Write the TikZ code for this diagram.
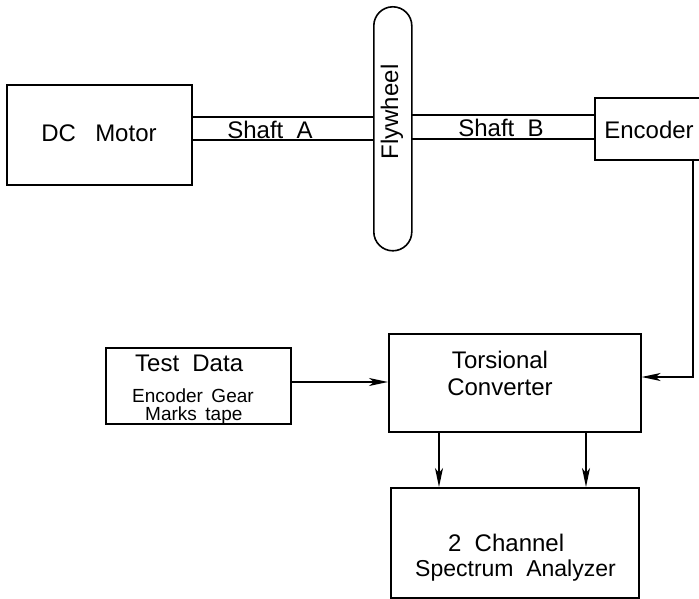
\documentclass[tikz,border=0pt]{standalone}
\usepackage{fontspec}
\setmainfont{Liberation Sans}
\usetikzlibrary{arrows.meta}
\begin{document}
\begin{tikzpicture}[x=1pt,y=-1pt,
  box/.style={draw,line width=1.6pt,rectangle,inner sep=0pt,anchor=north west},
  shaft/.style={line width=1.6pt},
  conn/.style={line width=1.6pt,-{Stealth[length=19pt,width=8pt,inset=5pt]}},
  big/.style={font=\fontsize{24}{27}\selectfont,inner sep=0pt},
  mid/.style={font=\fontsize{23}{21}\selectfont,inner sep=0pt},
  small/.style={font=\fontsize{19}{22}\selectfont,inner sep=0pt}]
\useasboundingbox (0,0) rectangle (699,599);
% top row
\node[box,minimum width=185pt,minimum height=100pt] (motor) at (6,84) {};
\node[big] (motort) at (99,133) {DC\hspace{0.8em}Motor};
\node[draw,line width=1.6pt,rounded corners=19pt,minimum width=38pt,minimum height=244pt,inner sep=0pt,anchor=north west] (fly) at (373,6) {};
\node[big,rotate=90] (flyt) at (392,112) {Flywheel};
\node[box,minimum width=105pt,minimum height=62pt] (enc) at (594,97) {};
\node[big] (enct) at (649,130) {Encoder};
% shafts
\coordinate (a1) at (191,117); \coordinate (a2) at (373,117);
\coordinate (a3) at (191,140); \coordinate (a4) at (373,140);
\draw[shaft] (a1) -- (a2); \draw[shaft] (a3) -- (a4);
\node[big] (sa) at (270,130) {Shaft\hspace{0.55em}A};
\coordinate (b1) at (411,115); \coordinate (b2) at (594,115);
\coordinate (b3) at (411,139); \coordinate (b4) at (594,139);
\draw[shaft] (b1) -- (b2); \draw[shaft] (b3) -- (b4);
\node[big] (sb) at (501,128) {Shaft\hspace{0.55em}B};
% lower boxes
\node[box,minimum width=185pt,minimum height=76pt] (test) at (105,347) {};
\node[big,anchor=west] (testt) at (135,363) {Test\hspace{0.55em}Data};
\node[small,anchor=base west] (gear) at (132,402) {Encoder\hspace{0.45em}Gear};
\node[small,anchor=base west] (marks) at (145,420) {Marks\hspace{0.45em}tape};
\node[box,minimum width=252pt,minimum height=98pt] (tors) at (388,333) {};
\node[big,align=center] (torst) at (500,373) {Torsional\\Converter};
\node[box,minimum width=248pt,minimum height=110pt] (spec) at (390,487) {};
\node[big,anchor=base west] (spec1) at (448,551) {2\hspace{0.55em}Channel};
\node[mid,anchor=base west] (spec2) at (415,576) {Spectrum\hspace{0.55em}Analyzer};
% connectors
\coordinate (ebot) at (693,159);
\coordinate (corner) at (693,377);
\draw[conn] (ebot) -- (corner) -- (tors.east |- corner);
\draw[conn] (test.east |- 0,382) -- (tors.west |- 0,382);
\draw[conn] (tors.south -| 439,0) -- (spec.north -| 439,0);
\draw[conn] (tors.south -| 586,0) -- (spec.north -| 586,0);
\end{tikzpicture}
\end{document}
